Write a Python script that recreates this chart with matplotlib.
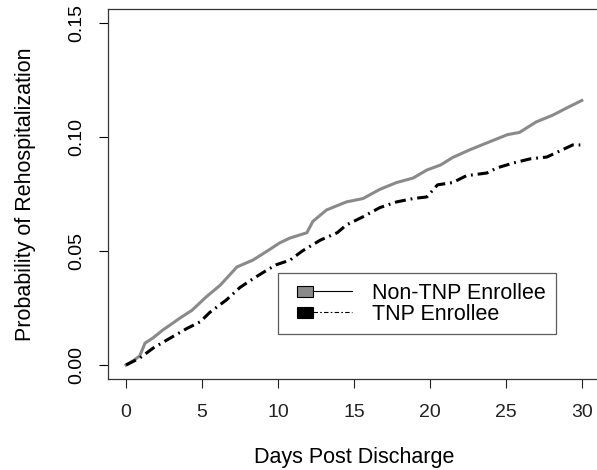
import matplotlib
matplotlib.use("Agg")
import matplotlib.pyplot as plt
from matplotlib.lines import Line2D
from matplotlib.patches import Rectangle
from matplotlib.legend_handler import HandlerBase

plt.rcParams['font.family'] = ['Liberation Sans', 'DejaVu Sans']

# Non-TNP Enrollee (grey)
non_days = [0, 0.5, 0.9, 1.25, 1.8, 2.43, 3.0, 3.55, 4.34, 5.3, 6.2, 7.3, 8.35, 9.3, 10.1,
            10.8, 11.9, 12.3, 13.2, 14.5, 15.6, 16.7, 17.8, 18.9, 19.8, 20.7, 21.5, 22.6,
            23.75, 25.1, 25.9, 27.0, 28.1, 29.0, 30.0]
non_vals = [0, 0.002, 0.004, 0.0096, 0.012, 0.0154, 0.018, 0.0206, 0.024, 0.030, 0.035, 0.043,
            0.046, 0.050, 0.0535, 0.0557, 0.058, 0.063, 0.068, 0.0715, 0.073, 0.077, 0.080,
            0.082, 0.0855, 0.0877, 0.091, 0.0943, 0.0974, 0.101, 0.102, 0.1066, 0.1096,
            0.1127, 0.116]

# TNP Enrollee (black dashed)
tnp_days = [0, 0.9, 1.8, 2.7, 4.0, 4.9, 5.5, 6.6, 7.5, 8.4, 9.3, 9.9, 10.8, 11.6, 12.8, 13.9,
            14.5, 15.6, 16.7, 17.8, 18.9, 19.8, 20.5, 21.5, 22.4, 23.75, 24.4, 25.5, 26.6,
            27.7, 28.6, 29.4, 29.9]
tnp_vals = [0, 0.003, 0.0075, 0.011, 0.016, 0.019, 0.023, 0.0285, 0.034, 0.038, 0.0417, 0.044,
            0.046, 0.050, 0.0548, 0.058, 0.0614, 0.065, 0.069, 0.0715, 0.073, 0.0737, 0.079,
            0.080, 0.083, 0.0842, 0.0864, 0.0886, 0.0904, 0.0912, 0.094, 0.0965, 0.0965]

x_ticks = [0, 5, 10, 15, 20, 25, 30]
y_ticks = [0.00, 0.05, 0.10, 0.15]
y_tick_labels = ["0.00", "0.05", "0.10", "0.15"]
legend_labels = ["Non-TNP Enrollee", "TNP Enrollee"]

grey = "#8a8a8a"
fig = plt.figure(figsize=(5.97, 4.70), dpi=100)
ax = fig.add_axes([0.1806, 0.1943, 0.8245, 0.786])

ax.plot(non_days, non_vals, color=grey, lw=2.2, solid_joinstyle='miter')
ax.plot(tnp_days, tnp_vals, color='black', lw=2.2,
        linestyle=(0, (3.6, 1.6, 0.6, 1.6)))

ax.set_xlim(-1.2, 31.2)
ax.set_ylim(-0.006, 0.156)
ax.set_xticks(x_ticks)
ax.set_xticklabels([str(t) for t in x_ticks])
ax.set_yticks(y_ticks)
ax.set_yticklabels(y_tick_labels, rotation=90, va='center')
ax.tick_params(direction='out', length=6.5, width=0.8, labelsize=14, colors='black',
               pad=10)
ax.tick_params(axis='x', colors='#222222', pad=12)
for s in ax.spines.values():
    s.set_color('#333333')
    s.set_linewidth(0.9)

ax.set_xlabel("Days Post Discharge", fontsize=15.5, va='center', ha='center')
ax.xaxis.set_label_coords(0.5, -0.214)
ax.set_ylabel("Probability of Rehospitalization", fontsize=15.5, va='center', ha='center')
ax.yaxis.set_label_coords(-0.168, 0.5)


class SquareLineHandler(HandlerBase):
    def __init__(self, face, ls):
        super().__init__()
        self.face = face
        self.ls = ls

    def create_artists(self, legend, orig_handle, xdescent, ydescent, width, height,
                       fontsize, trans):
        yc = height / 2 - ydescent
        off, sw, sh = 6.7, 11.5, 8
        rect = Rectangle((-xdescent + off, yc - sh / 2), sw, sh, facecolor=self.face,
                         edgecolor='black', lw=0.8, transform=trans)
        ln = Line2D([-xdescent + off + sw, -xdescent + width], [yc, yc], color='black',
                    lw=0.8, linestyle=self.ls, transform=trans)
        return [rect, ln]


h1 = Line2D([], [])
h2 = Line2D([], [])
leg = ax.legend([h1, h2], legend_labels,
                handler_map={h1: SquareLineHandler(grey, '-'),
                             h2: SquareLineHandler('black', (0, (4, 2, 1.5, 2)))},
                loc='upper left', bbox_to_anchor=(0.3458, 0.286), fontsize=15.5,
                frameon=True, fancybox=False, edgecolor='#333333', handlelength=2.99,
                handletextpad=0.93, labelspacing=0.0, borderpad=0.45, borderaxespad=0)
leg.get_frame().set_linewidth(0.9)

fig.savefig("out.png", dpi=100)
